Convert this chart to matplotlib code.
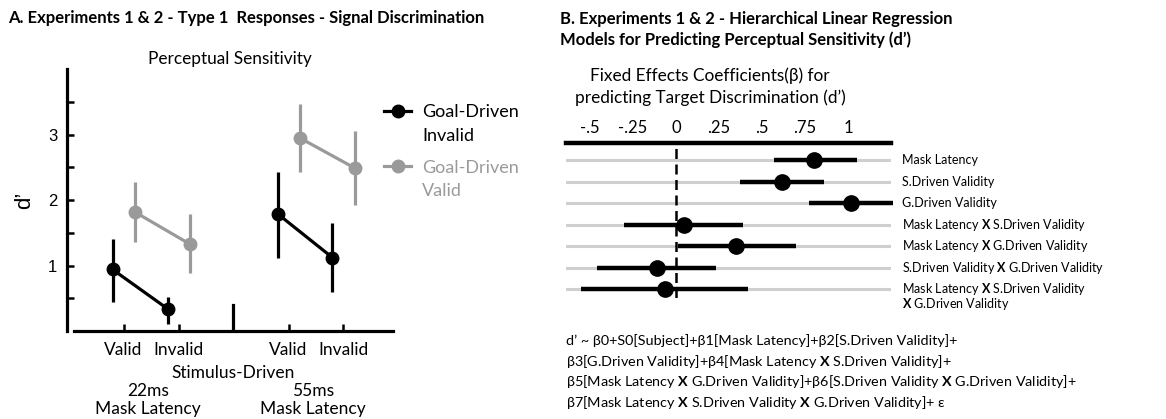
import numpy as np
import matplotlib.pyplot as plt
from matplotlib import transforms

plt.rcParams['font.family'] = ['Lato', 'DejaVu Sans']
plt.rcParams['mathtext.fontset'] = 'custom'
plt.rcParams['mathtext.rm'] = 'Lato'
plt.rcParams['mathtext.bf'] = 'Lato:bold'

# ---- Panel A: d' per condition (mean and error range) ----
conditions = ['Valid', 'Invalid', 'Valid', 'Invalid']
cond_pos = [1, 2, 4, 5]
latencies = ['22ms', '55ms']

gd_invalid = [0.94, 0.34, 1.79, 1.12]
gd_invalid_lo = [0.44, 0.11, 1.12, 0.59]
gd_invalid_hi = [1.41, 0.52, 2.43, 1.65]

gd_valid = [1.82, 1.33, 2.95, 2.49]
gd_valid_lo = [1.36, 0.89, 2.43, 1.92]
gd_valid_hi = [2.27, 1.78, 3.47, 3.05]

# ---- Panel B: fixed effects coefficients ----
predictors = ['Mask Latency',
              'S.Driven Validity',
              'G.Driven Validity',
              r'Mask Latency $\mathbf{X}$ S.Driven Validity',
              r'Mask Latency $\mathbf{X}$ G.Driven Validity',
              r'S.Driven Validity $\mathbf{X}$ G.Driven Validity',
              'Mask Latency $\\mathbf{X}$ S.Driven Validity\n$\\mathbf{X}$ G.Driven Validity']
coef = [0.80, 0.615, 1.02, 0.047, 0.35, -0.11, -0.064]
coef_lo = [0.57, 0.37, 0.775, -0.30, 0.014, -0.46, -0.55]
coef_hi = [1.05, 0.86, 1.26, 0.39, 0.70, 0.23, 0.42]
beta_ticks = [-0.5, -0.25, 0, 0.25, 0.5, 0.75, 1]
beta_labels = ['-.5', '-.25', '0', '.25', '.5', '.75', '1']

equation = [
    r"d’ ~ β0+S0[Subject]+β1[Mask Latency]+β2[S.Driven Validity]+",
    r"β3[G.Driven Validity]+β4[Mask Latency $\mathbf{X}$ S.Driven Validity]+",
    r"β5[Mask Latency $\mathbf{X}$ G.Driven Validity]+β6[S.Driven Validity $\mathbf{X}$ G.Driven Validity]+",
    r"β7[Mask Latency $\mathbf{X}$ S.Driven Validity $\mathbf{X}$ G.Driven Validity]+ ε",
]

GREY = '#9a9a9a'
W, H = 1166, 419
fig = plt.figure(figsize=(W / 100, H / 100), dpi=100)


def fx(px):
    return px / W


def fy(py):
    return 1 - py / H


# titles
fig.text(fx(8), fy(18), 'A. Experiments 1 & 2 - Type 1  Responses - Signal Discrimination',
         fontsize=12, weight='bold', va='center')
fig.text(fx(560), fy(19), 'B. Experiments 1 & 2 - Hierarchical Linear Regression',
         fontsize=12, weight='bold', va='center')
fig.text(fx(560), fy(40), 'Models for Predicting Perceptual Sensitivity (d’)',
         fontsize=12, weight='bold', va='center')

# ---------------- panel A ----------------
axA = fig.add_axes([fx(74), fy(331), (393 - 74) / W, (331 - 69) / H])
axA.set_xlim(0.1, 5.9)
axA.set_ylim(0, 4)

offset = 0.2
for k in range(2):
    idx = slice(2 * k, 2 * k + 2)
    xs = np.array(cond_pos[idx])
    axA.vlines(xs + offset, gd_valid_lo[idx], gd_valid_hi[idx], color=GREY, lw=2.3, zorder=2)
    lv, = axA.plot(xs + offset, gd_valid[idx], '-o', color=GREY, lw=2.3, ms=9, zorder=3)
    axA.vlines(xs - offset, gd_invalid_lo[idx], gd_invalid_hi[idx], color='k', lw=2.3, zorder=4)
    li, = axA.plot(xs - offset, gd_invalid[idx], '-o', color='k', lw=2.3, ms=9, zorder=5)

# short divider between the two latency groups
axA.axvline(3, ymin=0, ymax=0.1, color='k', lw=2.3)

for s in ['top', 'right']:
    axA.spines[s].set_visible(False)
axA.spines['left'].set_position(('outward', 5))
axA.spines['left'].set_linewidth(2.3)
axA.spines['bottom'].set_linewidth(2.3)

axA.set_yticks([1, 2, 3])
axA.set_yticks([0.5, 1.5, 2.5, 3.5], minor=True)
axA.tick_params(axis='y', which='both', direction='in', length=5, width=1.8, pad=7)
axA.tick_params(axis='y', labelsize=12)
for t in axA.get_yticklabels():
    t.set_fontfamily('Liberation Sans')
axA.set_xticks(cond_pos, conditions)
axA.tick_params(axis='x', direction='in', length=5, width=1.8, pad=8, labelsize=12.5)
axA.set_ylabel('d’', fontsize=16, fontfamily='Liberation Sans', labelpad=9)

fig.text(fx(230), fy(59), 'Perceptual Sensitivity', fontsize=12.4, ha='center', va='center')
fig.text(fx(233), fy(373), 'Stimulus-Driven', fontsize=12.5, ha='center', va='center')
tr = transforms.blended_transform_factory(axA.transData, fig.transFigure)
for k, lab in enumerate(latencies):
    xc = np.mean(cond_pos[2 * k:2 * k + 2]) - 0.05
    axA.text(xc, fy(396), lab, transform=tr, fontsize=12.5, ha='center', va='baseline')
    axA.text(xc, fy(414), 'Mask Latency', transform=tr, fontsize=12.5, ha='center',
             va='baseline')

# legend: first word beside the marker, second word on the line below
leg = axA.legend([li, lv], ['Goal-Driven', 'Goal-Driven'], loc='upper left',
                 bbox_to_anchor=(fx(384), fy(104)), bbox_transform=fig.transFigure,
                 frameon=False, fontsize=13, handlelength=1.5, handletextpad=0.6,
                 labelspacing=2.2, borderpad=0, borderaxespad=0)
leg.set_zorder(5)
leg_colors = ['k', GREY]
for txt, second, c in zip(leg.get_texts(), ['Invalid', 'Valid'], leg_colors):
    txt.set_color(c)
    axA.annotate(second, xy=(0, 0.5), xycoords=txt, xytext=(0, -17),
                 textcoords='offset points', fontsize=13, color=c, va='center', ha='left',
                 zorder=10, annotation_clip=False)

# ---------------- panel B ----------------
top_px, bot_px, row0_px, row_step = 143.3, 298, 160, 21.5
axB = fig.add_axes([fx(566), fy(bot_px), (891 - 566) / W, (bot_px - top_px) / H])
axB.set_xlim(-0.64, 1.25)
axB.set_ylim((bot_px - row0_px) / row_step, (top_px - row0_px) / row_step)

rows = np.arange(len(predictors))
for r in rows:
    axB.axhline(r, color='#cfcfcf', lw=2.2, zorder=1)
axB.axvline(0, color='k', lw=1.8, dashes=(4, 2.2), zorder=2)
axB.hlines(rows, coef_lo, coef_hi, color='k', lw=3.2, zorder=3, clip_on=False)
axB.plot(coef, rows, 'o', color='k', ms=11, zorder=4, clip_on=False)

for s in ['bottom', 'left', 'right']:
    axB.spines[s].set_visible(False)
axB.spines['top'].set_linewidth(3.2)
axB.xaxis.tick_top()
axB.set_xticks(beta_ticks, beta_labels)
axB.tick_params(axis='x', length=0, pad=5, labelsize=12)
axB.set_yticks([])

trB = transforms.blended_transform_factory(axB.transAxes, axB.transData)
for r, lab in zip(rows, predictors):
    for j, line in enumerate(lab.split('\n')):
        axB.text(1.034, r + 0.7 * j, line, transform=trB, fontsize=9, ha='left', va='center')

fig.text(fx(710), fy(76), 'Fixed Effects Coefficients(β) for', fontsize=12.4, ha='center', va='center')
fig.text(fx(710), fy(98), 'predicting Target Discrimination (d’)', fontsize=12.4, ha='center', va='center')

for i, line in enumerate(equation):
    fig.text(fx(566), fy(341 + 20.4 * i), line, fontsize=10.4, ha='left', va='center')

fig.savefig('out.png', dpi=100)
